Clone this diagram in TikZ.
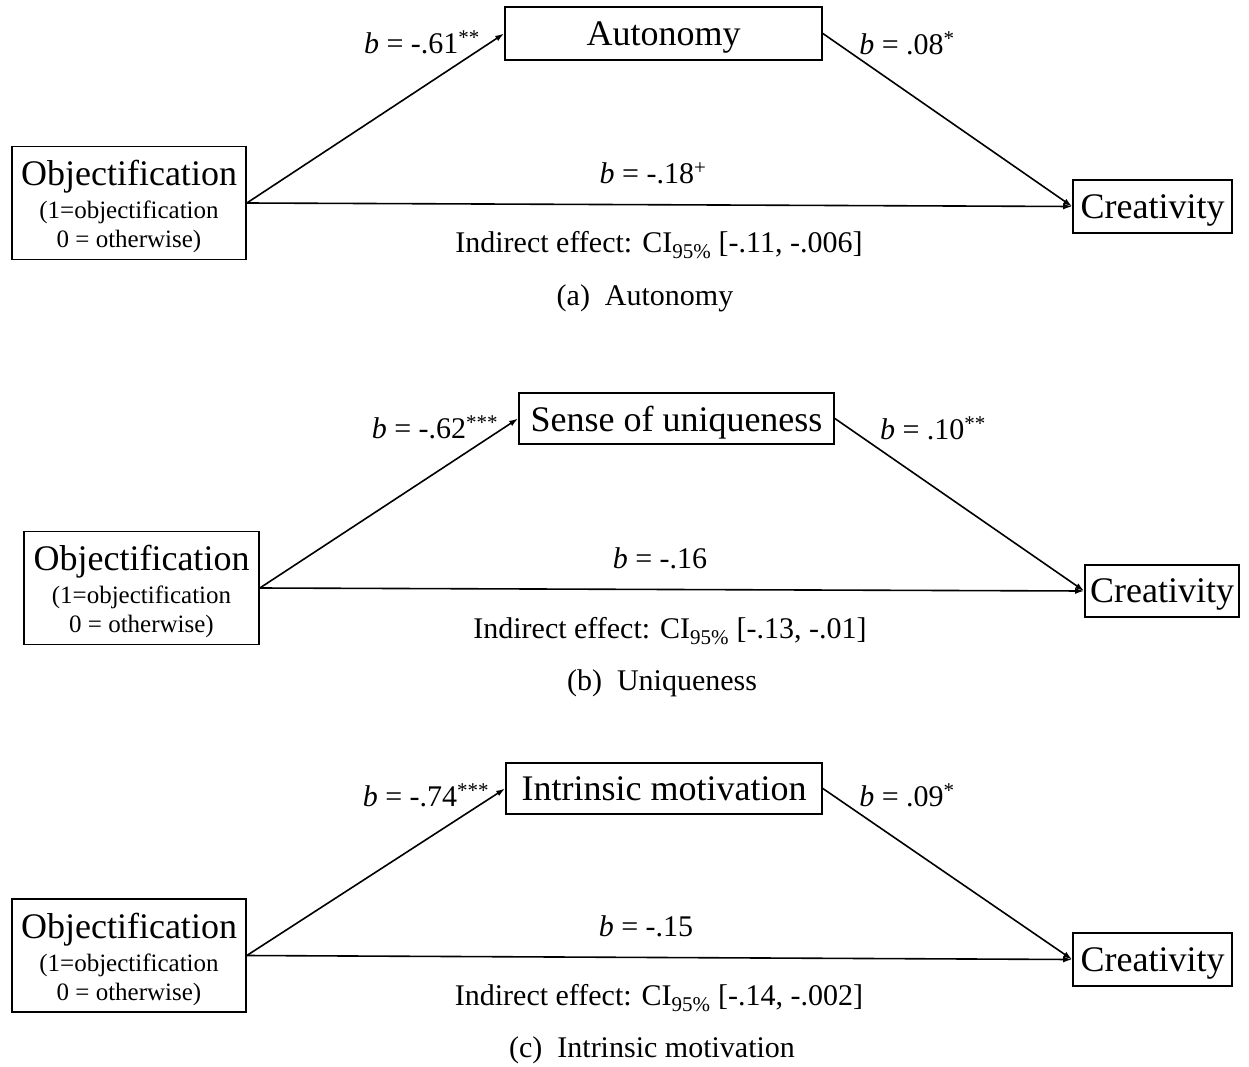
\documentclass[tikz,border=0pt]{standalone}
\usepackage{fontspec}
\setmainfont{Liberation Serif}
\usetikzlibrary{arrows.meta}
\newcommand\objlines{{\fontsize{36}{40}\selectfont\rule{0pt}{33pt}Objectification}\\[4pt](1=objectification\\0 = otherwise)}
\newcommand\sig[1]{\textsuperscript{#1}}
\begin{document}
\begin{tikzpicture}[x=1pt,y=-1pt,
  box/.style={draw, line width=1.7pt, inner sep=0pt, align=center},
  objbox/.style={box, font=\fontsize{25}{29}\selectfont, minimum width=234pt, minimum height=113pt},
  bigt/.style={font=\fontsize{36}{40}\selectfont, text depth=0pt},
  lab/.style={font=\fontsize{30}{34}\selectfont, inner sep=0pt},
  arr/.style={line width=1.6pt, -{Latex[length=9pt,width=6pt]}},
]
\useasboundingbox (0,0) rectangle (1249,1067);
% ---------- panel (a)
\node[objbox] (o1) at (129,203) {\objlines};
\node[box, bigt, minimum width=317pt, minimum height=53pt] (m1) at (663.5,33.5) {Autonomy};
\node[box, bigt, minimum width=159pt, minimum height=53pt] (c1) at (1152.5,206.5) {Creativity};
\draw[arr] (o1.east) -- (m1.west);
\draw[arr] (m1.east) -- (c1.west);
\draw[arr] (o1.east) -- (c1.west);
\node[lab] (l1a) at (422,42) {\textit{b} = -.61\sig{**}};
\node[lab] (l1b) at (907,43) {\textit{b} = .08\sig{*}};
\node[lab] (l1c) at (653,173) {\textit{b} = -.18\sig{+}};
\node[lab] (i1) at (659,245) {Indirect effect: CI\textsubscript{95\%} [-.11, -.006]};
\node[lab] (t1) at (645,298) {(a)\ \ Autonomy};
% ---------- panel (b)
\node[objbox, minimum width=235pt] (o2) at (141.5,588) {\objlines};
\node[box, bigt, minimum width=315pt, minimum height=51pt] (m2) at (676.5,418.5) {Sense of uniqueness};
\node[box, bigt, minimum width=154pt, minimum height=52pt] (c2) at (1162,591) {Creativity};
\draw[arr] (o2.east) -- (m2.west);
\draw[arr] (m2.east) -- (c2.west);
\draw[arr] (o2.east) -- (c2.west);
\node[lab] (l2a) at (435,427) {\textit{b} = -.62\sig{***}};
\node[lab] (l2b) at (933,428) {\textit{b} = .10\sig{**}};
\node[lab] (l2c) at (660,558) {\textit{b} = -.16};
\node[lab] (i2) at (670,631) {Indirect effect: CI\textsubscript{95\%} [-.13, -.01]};
\node[lab] (t2) at (662,683) {(b)\ \ Uniqueness};
% ---------- panel (c)
\node[objbox] (o3) at (129,955.5) {\objlines};
\node[box, bigt, minimum width=316pt, minimum height=51pt] (m3) at (664,788.5) {Intrinsic motivation};
\node[box, bigt, minimum width=159pt, minimum height=53pt] (c3) at (1152.5,959.5) {Creativity};
\draw[arr] (o3.east) -- (m3.west);
\draw[arr] (m3.east) -- (c3.west);
\draw[arr] (o3.east) -- (c3.west);
\node[lab] (l3a) at (426,795) {\textit{b} = -.74\sig{***}};
\node[lab] (l3b) at (907,795) {\textit{b} = .09\sig{*}};
\node[lab] (l3c) at (646,926) {\textit{b} = -.15};
\node[lab] (i3) at (659,998) {Indirect effect: CI\textsubscript{95\%} [-.14, -.002]};
\node[lab] (t3) at (652,1050) {(c)\ \ Intrinsic motivation};
\end{tikzpicture}
\end{document}
